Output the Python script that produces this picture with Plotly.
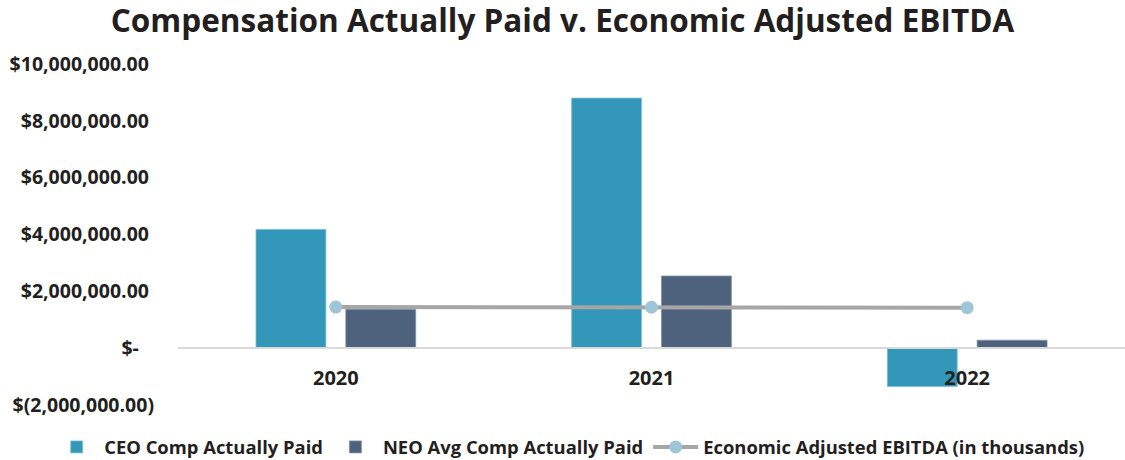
import plotly.graph_objects as go

years = ["2020", "2021", "2022"]
ceo_cap = [4180000, 8800000, -1350000]
neo_cap = [1370000, 2540000, 280000]
ebitda_k = [1445000, 1440000, 1425000]

tick_vals = [-2000000, 0, 2000000, 4000000, 6000000, 8000000, 10000000]
tick_text = ["$(2,000,000.00)", "$-\u00a0\u00a0\u00a0", "$2,000,000.00\u00a0",
             "$4,000,000.00\u00a0", "$6,000,000.00\u00a0", "$8,000,000.00\u00a0",
             "$10,000,000.00\u00a0"]

FONT = "Open Sans"
TXT = "#231f20"

fig = go.Figure()
fig.add_trace(go.Bar(
    x=years, y=ceo_cap, name="CEO Comp Actually Paid",
    marker=dict(color="#3397b9", line=dict(color="#7fc0d6", width=0.8)),
    width=0.2215, offset=-0.253,
))
fig.add_trace(go.Bar(
    x=years, y=neo_cap, name="NEO Avg Comp Actually Paid",
    marker=dict(color="#4e627e", line=dict(color="#8393aa", width=0.8)),
    width=0.2215, offset=0.0316,
))
fig.add_trace(go.Scatter(
    x=years, y=ebitda_k, name="Economic Adjusted EBITDA (in thousands)",
    mode="lines+markers",
    line=dict(color="#a6a6a6", width=4),
    marker=dict(color="#9fc5d8", size=13),
))

fig.update_layout(
    width=1125, height=460,
    margin=dict(l=178, r=0, t=64, b=55, autoexpand=False),
    paper_bgcolor="white", plot_bgcolor="white",
    font=dict(family=FONT, color=TXT, size=18, weight="bold"),
    title=dict(text="Compensation Actually Paid v. Economic Adjusted EBITDA",
               x=0.5, xref="container", xanchor="center",
               y=1 - 21 / 460, yref="container", yanchor="middle",
               font=dict(family=FONT, size=31.5, color=TXT, weight="bold")),
    barmode="group",
    showlegend=True,
    legend=dict(orientation="h", x=-0.136, xanchor="left",
                y=-0.123, yanchor="middle",
                font=dict(family=FONT, size=18.4, color=TXT, weight="bold"),
                itemwidth=45, tracegroupgap=0),
    xaxis=dict(type="category", anchor="free", position=2 / 12,
               showline=True, linecolor="#d9d9d9", linewidth=1.5,
               showgrid=False, ticks="", ticklabelstandoff=12,
               tickfont=dict(family=FONT, size=20, color=TXT, weight="bold"),
               range=[-0.5, 2.5]),
    yaxis=dict(range=[-2000000, 10000000], tickvals=tick_vals, ticktext=tick_text,
               showgrid=False, zeroline=False, showline=False,
               ticks="", ticklabelstandoff=23,
               tickfont=dict(family=FONT, size=19.5, color=TXT, weight="bold")),
)

fig.write_html("out.html", config={"displayModeBar": False},
               post_script="document.body.style.margin='0';document.body.style.overflow='hidden';")
